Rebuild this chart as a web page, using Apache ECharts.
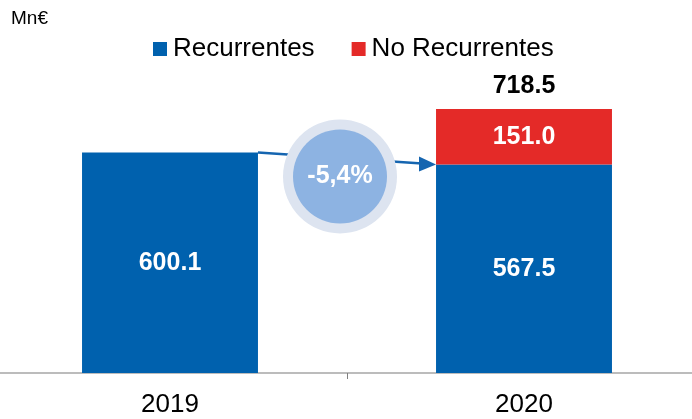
<!DOCTYPE html>
<html>
<head>
<meta charset="utf-8">
<script src="https://cdn.jsdelivr.net/npm/echarts@6/dist/echarts.min.js"></script>
<style>
    html, body {margin: 0; padding: 0; background: #fff;}
    #chart {width: 692px; height: 419px;}
</style>
</head>
<body>
<div id="chart"></div>
<script>
var years = ['2019', '2020'];
var recurrentes = [600.1, 567.5];
var noRecurrentes = [null, 151.0];
var totals = [null, 718.5];
var changeText = '-5,4%';

var BLUE = '#0061ae';
var RED = '#e42a28';
var FONT = '"Liberation Sans", Arial, sans-serif';

var chart = echarts.init(document.getElementById('chart'));

function valueLabel(color) {
    return {
        show: true,
        color: color,
        fontSize: 25,
        fontWeight: 'bold',
        fontFamily: FONT,
        formatter: function (p) { return p.value == null ? '' : p.value.toFixed(1); }
    };
}

var option = {
    animation: false,
    textStyle: {fontFamily: FONT},
    grid: {left: -7, right: -9, top: 79, bottom: 46, outerBoundsMode: 'none', containLabel: false},
    title: {
        text: 'Mn€',
        left: 6,
        top: 4,
        textStyle: {fontSize: 19, fontWeight: 'normal', color: '#000', fontFamily: FONT}
    },
    legend: {
        top: 31,
        left: 148,
        itemWidth: 14,
        itemHeight: 14,
        itemGap: 37,
        icon: 'rect',
        textStyle: {fontSize: 26, color: '#000', fontFamily: FONT, padding: [0, 0, 0, 1]},
        data: ['Recurrentes', 'No Recurrentes']
    },
    xAxis: {
        type: 'category',
        data: years,
        axisLine: {lineStyle: {color: '#a6a6a6', width: 1.5}},
        axisTick: {show: true, length: 6, lineStyle: {color: '#808080'}},
        axisLabel: {fontSize: 26, color: '#000', margin: 19, fontFamily: FONT}
    },
    yAxis: {
        type: 'value',
        min: 0,
        max: 800,
        show: false,
        splitLine: {show: false}
    },
    series: [
        {
            name: 'Recurrentes',
            type: 'bar',
            stack: 'total',
            barWidth: '49.7%',
            itemStyle: {color: BLUE},
            label: Object.assign(valueLabel('#fff'), {position: 'inside'}),
            data: recurrentes
        },
        {
            name: 'No Recurrentes',
            type: 'bar',
            stack: 'total',
            barWidth: '49.7%',
            itemStyle: {color: RED},
            label: Object.assign(valueLabel('#fff'), {position: 'inside'}),
            data: noRecurrentes
        },
        {
            name: 'Total',
            type: 'scatter',
            symbolSize: 0,
            silent: true,
            itemStyle: {opacity: 1},
            label: Object.assign(valueLabel('#000'), {position: 'top', distance: 10}),
            data: totals
        }
    ]
};
chart.setOption(option);

// arrow and change bubble, placed from the bar positions
var p0 = chart.convertToPixel({seriesIndex: 0}, [0, recurrentes[0]]);
var p1 = chart.convertToPixel({seriesIndex: 0}, [1, recurrentes[1]]);
var halfBar = (p1[0] - p0[0]) * 0.2485;
var x0 = p0[0] + halfBar, y0 = p0[1];
var x1 = p1[0] - halfBar, y1 = p1[1];
var cx = (p0[0] + p1[0]) / 2 - 7;
var cy = (y0 + y1) / 2 + 18;

chart.setOption({
    graphic: [
        {
            type: 'line',
            z: 10,
            shape: {x1: x0, y1: y0, x2: x1 - 14, y2: y1 - 0.9},
            style: {stroke: '#1565b0', lineWidth: 2.5}
        },
        {
            type: 'polygon',
            z: 10,
            shape: {points: [[x1 - 17, y1 - 8], [x1, y1], [x1 - 17, y1 + 7]]},
            style: {fill: '#1565b0'}
        },
        {
            type: 'circle',
            z: 11,
            shape: {cx: cx, cy: cy, r: 57},
            style: {fill: '#dde4f0'}
        },
        {
            type: 'circle',
            z: 12,
            shape: {cx: cx, cy: cy, r: 47},
            style: {fill: '#8db3e2'}
        },
        {
            type: 'text',
            z: 13,
            x: cx,
            y: cy,
            style: {
                text: changeText,
                fill: '#fff',
                font: 'bold 25px ' + FONT,
                align: 'center',
                verticalAlign: 'middle'
            }
        }
    ]
});
</script>
</body>
</html>
